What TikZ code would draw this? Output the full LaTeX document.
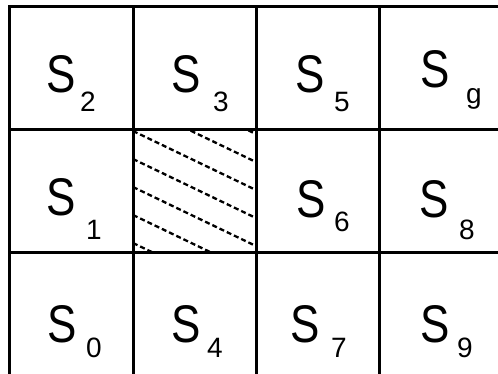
\documentclass[tikz,border=0pt]{standalone}
\usepackage{fontspec}
\usepackage{tikz}
\newfontfamily\statefont[FakeStretch=0.83]{Liberation Sans}
\newfontfamily\indexfont{Liberation Sans}

\begin{document}
\begin{tikzpicture}[x=1pt, y=-1pt,
  grid/.style={line width=3pt},
  hatch/.style={line width=2.3pt, dash pattern=on 5pt off 3pt},
  state/.style={inner sep=0pt, anchor=base, font=\statefont\fontsize{53}{53}\selectfont},
  sub/.style={inner sep=0pt, anchor=base, font=\indexfont\fontsize{28}{28}\selectfont}]
  \useasboundingbox (0,0) rectangle (498,374);
  \clip (0,0) rectangle (498,374);
  % Blocked cell
  \begin{scope}
    \clip (133,130) rectangle (256,253);
    \foreach \c in {47,75,...,243}
      \draw[hatch] (133,\c) -- ++(140,67.2);
  \end{scope}
  % Grid
  \draw[grid] (9,7) rectangle (502,376);
  \foreach \x in {133,256,379}
    \draw[grid] (\x,7) -- (\x,376);
  \foreach \y in {130,253}
    \draw[grid] (9,\y) -- (502,\y);
  % Top row
  \node[state] (s2) at (61,93) {S};   \node[sub] (i2) at (88,112) {2};
  \node[state] (s3) at (186,93) {S};  \node[sub] (i3) at (221,112) {3};
  \node[state] (s5) at (310,93) {S};  \node[sub] (i5) at (342,112) {5};
  \node[state] (sg) at (435,88) {S};  \node[sub] (ig) at (474,104) {g};
  % Middle row
  \node[state] (s1) at (61,215) {S};  \node[sub] (i1) at (94,240) {1};
  \node[state] (s6) at (311,218) {S}; \node[sub] (i6) at (342,232) {6};
  \node[state] (s8) at (434,218) {S}; \node[sub] (i8) at (467,240) {8};
  % Bottom row
  \node[state] (s0) at (62,342) {S};  \node[sub] (i0) at (94,357) {0};
  \node[state] (s4) at (186,342) {S}; \node[sub] (i4) at (215,357) {4};
  \node[state] (s7) at (305,342) {S}; \node[sub] (i7) at (339,357) {7};
  \node[state] (s9) at (435,342) {S}; \node[sub] (i9) at (465,357) {9};
\end{tikzpicture}
\end{document}
